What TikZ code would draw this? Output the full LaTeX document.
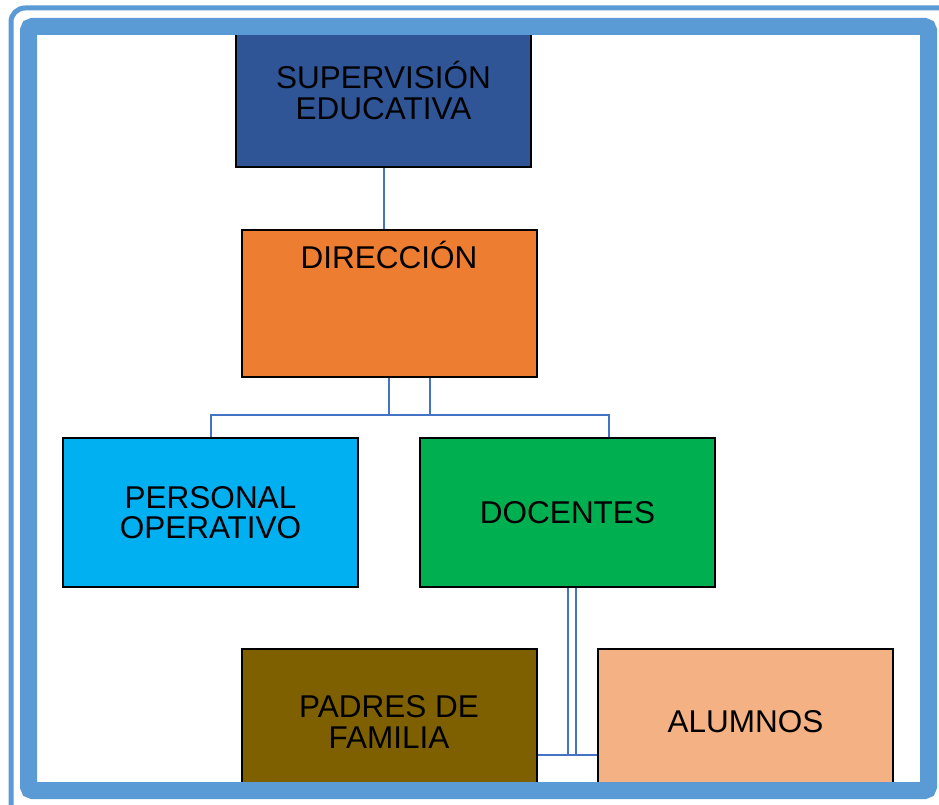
\documentclass[tikz,border=0pt]{standalone}
\usepackage{fontspec}
\setmainfont{Liberation Sans}
\definecolor{framebl}{HTML}{5B9BD5}
\definecolor{linkbl}{HTML}{4472C4}
\definecolor{supc}{HTML}{2F5597}
\definecolor{dirc}{HTML}{ED7D31}
\definecolor{perc}{HTML}{00B0F0}
\definecolor{docc}{HTML}{00B050}
\definecolor{padc}{HTML}{7F6000}
\definecolor{aluc}{HTML}{F4B183}
\begin{document}
\begin{tikzpicture}[x=1pt,y=-1pt,
  boxfont/.style={font=\fontsize{31.5}{30.5}\selectfont},
  orgbox/.style={draw=black, line width=2pt, minimum width=295pt, inner sep=0pt, align=center,
     boxfont, text=black},
  link/.style={draw=linkbl, line width=2pt}]
\useasboundingbox (0,0) rectangle (939,805);
\clip (0,0) rectangle (939,805);
\fill[white] (0,0) rectangle (939,805);
% connectors
\coordinate (d1) at (389,377);
\coordinate (d2) at (430,377);
\coordinate (hl) at (210.5,415);
\coordinate (hr) at (609,415);
\coordinate (c1) at (568,587);
\coordinate (c2) at (576,587);
% boxes
\node[orgbox, fill=supc, minimum height=147pt,
  label={[inner sep=0pt, align=center, boxfont, yshift=3pt]center:{SUPERVISIÓN\\EDUCATIVA}}] (sup) at (383.5,93.5) {};
\node[orgbox, fill=dirc, minimum height=147pt,
  label={[anchor=north, inner sep=0pt, boxfont, yshift=-12pt]north:DIRECCIÓN}] (dir) at (389,303.5) {};
\node[orgbox, fill=perc, minimum height=149pt] (per) at (210.5,512.5) {PERSONAL\\OPERATIVO};
\node[orgbox, fill=docc, minimum height=149pt] (doc) at (567.5,512.5) {DOCENTES};
\node[orgbox, fill=padc, minimum height=146pt] (pad) at (389,722) {PADRES DE\\FAMILIA};
\node[orgbox, fill=aluc, minimum height=146pt] (alu) at (745.5,722) {ALUMNOS};
% links
\draw[link] (sup.south) -- (sup.south |- dir.north);
\draw[link] (dir.south) -- (dir.south |- hl);
\draw[link] (d2 |- dir.south) -- (d2 |- hl);
\draw[link] (per.north) -- (per.north |- hl) -- (hr) -- (hr |- doc.north);
\draw[link] (c1 |- doc.south) -- (c1 |- 0,755);
\draw[link] (c2 |- doc.south) -- (c2 |- 0,755);
\draw[link] (pad.east |- 0,755) -- (alu.west |- 0,755);
% frame
\draw[framebl, line width=17pt, rounded corners=4pt] (28.5,26.5) rectangle (928.5,790.5);
\draw[framebl, line width=5pt, rounded corners=14pt] (11,8) rectangle (960,830);
\end{tikzpicture}
\end{document}
